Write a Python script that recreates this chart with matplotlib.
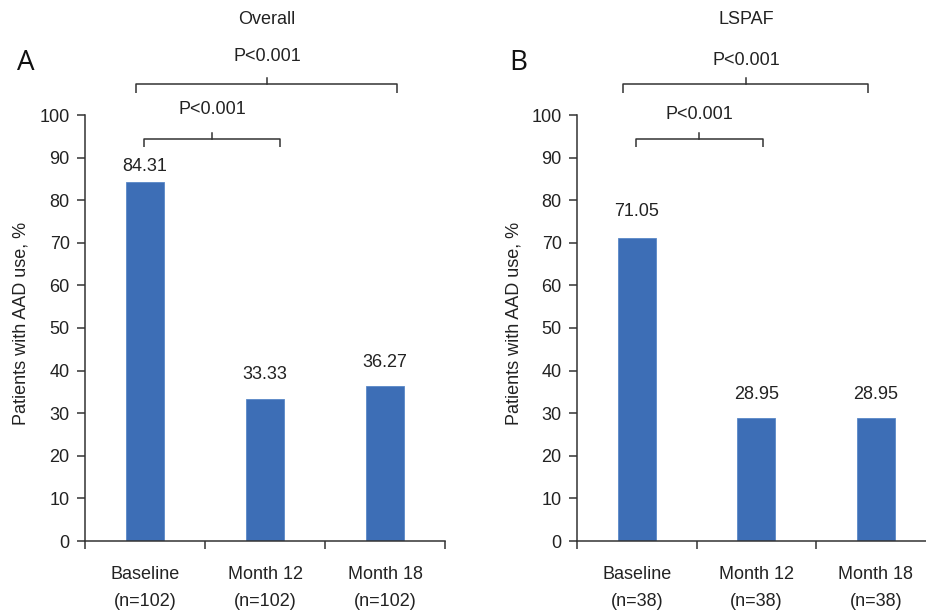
import matplotlib
matplotlib.use("Agg")
import matplotlib.pyplot as plt

# ---- data ----
categories = ["Baseline", "Month 12", "Month 18"]
overall_n = ["(n=102)", "(n=102)", "(n=102)"]
lspaf_n = ["(n=38)", "(n=38)", "(n=38)"]
overall_values = [84.31, 33.33, 36.27]
lspaf_values = [71.05, 28.95, 28.95]
yticks = [0, 10, 20, 30, 40, 50, 60, 70, 80, 90, 100]
p_text = "P<0.001"

plt.rcParams['font.family'] = ['Liberation Sans', 'DejaVu Sans']
BAR = "#3d6eb6"
LINE = "#333333"
FS = 13

fig = plt.figure(figsize=(9.26, 6.12), dpi=100)
W, H = 926, 612

def make_axes(x0_px, w_px):
    return fig.add_axes([x0_px / W, (H - 541) / H, w_px / W, 426 / H])

def style(ax, values, nlabels, label_offsets):
    x = list(range(len(values)))
    ax.bar(x, values, width=0.32, color=BAR, edgecolor="#5a88c8", linewidth=0.6, zorder=2)
    ax.set_xlim(-0.5, 2.5)
    ax.set_ylim(0, 100)
    ax.set_yticks(yticks)
    ax.set_yticklabels([str(t) for t in yticks], fontsize=FS, color="#222222")
    ax.set_xticks([-0.5, 0.5, 1.5, 2.5])
    ax.set_xticklabels([])
    ax.set_xticks(x, minor=True)
    ax.set_xticklabels([f"{c}\n{n}" for c, n in zip(categories, nlabels)], minor=True,
                       fontsize=FS, color="#222222", linespacing=1.75)
    ax.tick_params(axis='x', which='minor', length=0, pad=18)
    ax.tick_params(axis='x', which='major', length=6, width=1.1, color=LINE, direction='out')
    ax.tick_params(axis='y', length=6, width=1.1, color=LINE, pad=5, direction='out')
    for s in ['top', 'right']:
        ax.spines[s].set_visible(False)
    for s in ['left', 'bottom']:
        ax.spines[s].set_color(LINE)
        ax.spines[s].set_linewidth(1.1)
    ax.set_ylabel("Patients with AAD use, %", fontsize=FS, color="#222222")
    for xi, v, off in zip(x, values, label_offsets):
        ax.annotate(f"{v:.2f}", (xi, v), xytext=(0, off), textcoords='offset points',
                    ha='center', va='center', fontsize=FS, color="#222222")

def bracket(ax, x1, x2, y, drop, xc, rise, ty):
    ax.plot([x1, x1, x2, x2], [y - drop, y, y, y - drop], color=LINE, lw=1.1,
            clip_on=False, solid_capstyle='butt')
    ax.plot([xc, xc], [y, y + rise], color=LINE, lw=1.1, clip_on=False)
    ax.text(xc, ty, p_text, ha='center', va='center', fontsize=FS, color="#222222",
            clip_on=False)

# Panel A
axA = make_axes(85, 360)
style(axA, overall_values, overall_n, [11, 17.5, 17.5])
axA.yaxis.set_label_coords(-0.155, 0.51)
bracket(axA, -0.075, 2.1, 107.3, 2.1, 1.017, 1.4, 113.8)
bracket(axA, -0.008, 1.125, 94.4, 1.9, 0.558, 1.4, 101.2)

# Panel B
axB = make_axes(577, 358.5)
style(axB, lspaf_values, lspaf_n, [19, 17, 17])
axB.yaxis.set_label_coords(-0.153, 0.51)
bracket(axB, -0.115, 1.935, 107.3, 2.1, 0.914, 1.4, 112.9)
bracket(axB, -0.006, 1.056, 94.4, 1.9, 0.52, 1.4, 100.2)

fig.text(267 / W, 1 - 20 / H, "Overall", ha='center', va='center', fontsize=FS, color="#222222")
fig.text(746 / W, 1 - 20 / H, "LSPAF", ha='center', va='center', fontsize=FS, color="#222222")
fig.text(26 / W, 1 - 63 / H, "A", ha='center', va='center', fontsize=20, color="#111111",
         family=['Open Sans', 'DejaVu Sans'])
fig.text(518 / W, 1 - 63 / H, "B", ha='center', va='center', fontsize=20, color="#111111",
         family=['Open Sans', 'DejaVu Sans'])

fig.savefig("out.png", dpi=100)
